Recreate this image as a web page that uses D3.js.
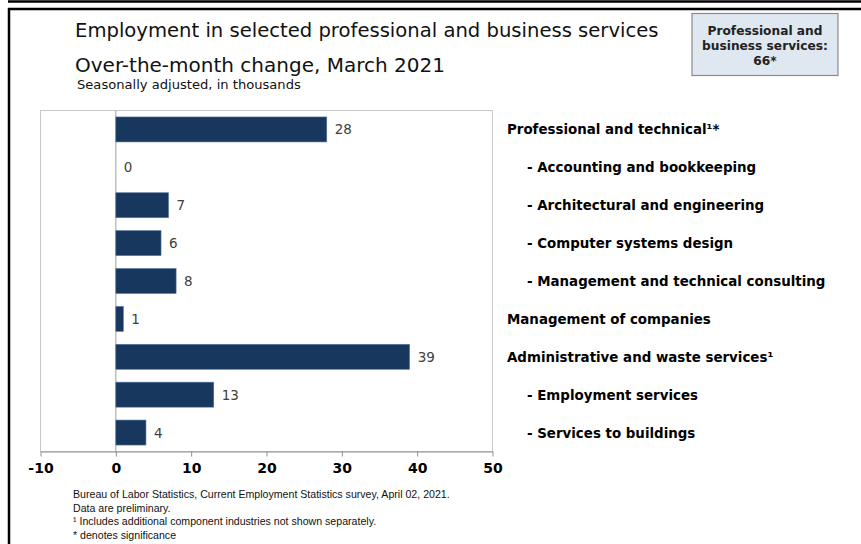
<!DOCTYPE html>
<html>
<head>
<meta charset="utf-8">
<script src="https://cdn.jsdelivr.net/npm/d3@7"></script>
<style>
  html, body { margin: 0; padding: 0; background: #fff; }
  svg { display: block; }
</style>
</head>
<body>
<svg id="chart" width="861" height="544"></svg>
<script>
const categories = [
  "Professional and technical¹*",
  "   - Accounting and bookkeeping",
  "   - Architectural and engineering",
  "   - Computer systems design",
  "   - Management and technical consulting",
  "Management of companies",
  "Administrative and waste services¹",
  "   - Employment services",
  "   - Services to buildings"
];
const values = [28, 0, 7, 6, 8, 1, 39, 13, 4];
const xTicks = [-10, 0, 10, 20, 30, 40, 50];
const titleLines = ["Employment in selected professional and business services", "Over-the-month change, March 2021"];
const subtitle = "Seasonally adjusted, in thousands";
const boxLines = ["Professional and", "business services:", "66*"];
const notes = [
  "Bureau of Labor Statistics, Current Employment Statistics survey, April 02, 2021.",
  "Data are preliminary.",
  "¹ Includes additional component industries not shown separately.",
  "* denotes significance"
];

const svg = d3.select("#chart");
const W = 861, H = 544;

// outer frame
svg.append("line").attr("x1", 8).attr("x2", W).attr("y1", 1.5).attr("y2", 1.5).attr("stroke", "#000").attr("stroke-width", 2.5);
svg.append("line").attr("x1", 8).attr("x2", W).attr("y1", 9).attr("y2", 9).attr("stroke", "#000").attr("stroke-width", 2.5);
svg.append("line").attr("x1", 9).attr("x2", 9).attr("y1", 8).attr("y2", H).attr("stroke", "#000").attr("stroke-width", 2.5);

// titles
svg.append("text").attr("x", 75).attr("y", 37).attr("font-family", "DejaVu Sans").attr("font-size", 19.6).attr("fill", "#111").text(titleLines[0]);
svg.append("text").attr("x", 75).attr("y", 72).attr("font-family", "DejaVu Sans").attr("font-size", 20).attr("fill", "#111").text(titleLines[1]);
svg.append("text").attr("x", 77).attr("y", 89).attr("font-family", "DejaVu Sans").attr("font-size", 13.1).attr("fill", "#111").text(subtitle);

// box
svg.append("rect").attr("x", 692).attr("y", 13.5).attr("width", 146).attr("height", 62)
  .attr("fill", "#dfe7f1").attr("stroke", "#8a8a8a").attr("stroke-width", 1.2);
boxLines.forEach((t, i) => {
  svg.append("text").attr("x", 765).attr("y", 34.5 + i * 15).attr("text-anchor", "middle")
    .attr("font-family", "DejaVu Sans").attr("font-weight", "bold").attr("font-size", 12.2).attr("fill", "#222").text(t);
});

// plot
const pLeft = 40.5, pRight = 492.5, pTop = 110.5, pBottom = 451.5;
const x = d3.scaleLinear().domain([xTicks[0], xTicks[xTicks.length - 1]]).range([pLeft, pRight]);
const y = d3.scaleBand().domain(categories).range([pTop, pBottom]).paddingInner(0.34).paddingOuter(0.17);

svg.append("rect").attr("x", pLeft).attr("y", pTop).attr("width", pRight - pLeft).attr("height", pBottom - pTop)
  .attr("fill", "none").attr("stroke", "#c8c8c8").attr("stroke-width", 1);

// zero line
svg.append("line").attr("x1", x(0)).attr("x2", x(0)).attr("y1", pTop).attr("y2", pBottom).attr("stroke", "#a0a0a0").attr("stroke-width", 1);

// bars
svg.append("g").selectAll("rect").data(values).join("rect")
  .attr("x", d => x(Math.min(0, d)))
  .attr("y", (d, i) => y(categories[i]))
  .attr("width", d => Math.abs(x(d) - x(0)))
  .attr("height", y.bandwidth())
  .attr("fill", "#17375e")
  .attr("stroke", d => d === 0 ? "none" : "#5b7aa3").attr("stroke-width", 0.6);

// value labels
svg.append("g").selectAll("text").data(values).join("text")
  .attr("x", d => x(Math.max(0, d)) + 8)
  .attr("y", (d, i) => y(categories[i]) + y.bandwidth() / 2 + 5)
  .attr("font-family", "DejaVu Sans").attr("font-size", 13.5).attr("fill", "#404040")
  .text(d => d);

// x axis
const axis = svg.append("g").attr("transform", `translate(0,${pBottom})`)
  .call(d3.axisBottom(x).tickValues(xTicks).tickSize(5).tickSizeOuter(0).tickFormat(d => String(d)));
axis.select(".domain").attr("stroke", "#909090");
axis.selectAll(".tick line").attr("stroke", "#909090");
axis.selectAll(".tick text").attr("font-family", "DejaVu Sans").attr("font-weight", "bold")
  .attr("font-size", 14).attr("fill", "#000").attr("dy", 0).attr("y", 21);

// category labels
svg.append("g").selectAll("text").data(categories).join("text")
  .attr("x", d => d.startsWith("   ") ? 527 : 507)
  .attr("y", d => y(d) + y.bandwidth() / 2 + 5)
  .attr("font-family", "DejaVu Sans").attr("font-weight", "bold").attr("font-size", 13.4).attr("fill", "#000")
  .text(d => d.trim());

// notes
notes.forEach((t, i) => {
  svg.append("text").attr("x", 73).attr("y", 498 + i * 13.5)
    .attr("font-family", "Liberation Sans").attr("font-size", 10.6).attr("fill", "#111").text(t);
});
</script>
</body>
</html>
